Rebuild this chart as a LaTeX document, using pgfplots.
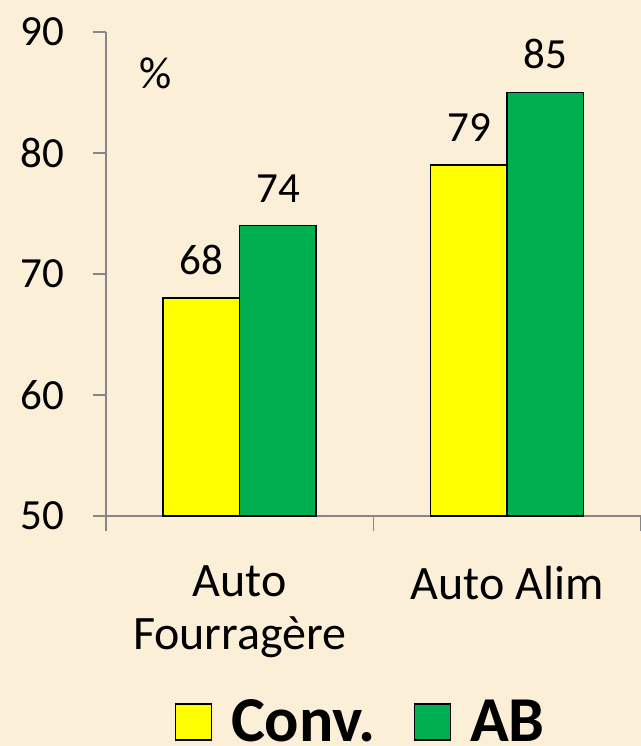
\documentclass[border=0pt]{standalone}
\usepackage{pgfplots}
\pgfplotsset{compat=1.18}
\usepackage{fontspec}
\setmainfont{Carlito}
\definecolor{bg}{RGB}{251,239,215}
\definecolor{axgray}{RGB}{134,134,134}
\definecolor{convy}{RGB}{255,255,0}
\definecolor{abg}{RGB}{0,176,80}
\begin{document}
\begin{tikzpicture}
\path[use as bounding box, fill=bg] (0,0) rectangle (320.5pt,373pt);
\begin{axis}[
  at={(53pt,115pt)}, anchor=south west,
  width=267.5pt, height=242pt, scale only axis,
  xmin=-0.5, xmax=1.5, ymin=50, ymax=90,
  axis x line*=bottom, axis y line*=left,
  axis line style={axgray, line width=0.8pt},
  every tick/.style={axgray, line width=0.8pt},
  tick align=outside,
  ytick={50,60,70,80,90},
  major tick length=6.5pt,
  xtick={0,1}, xticklabels={{Auto\\Fourragère},{Auto Alim}},
  major x tick style={draw=none},
  minor xtick={-0.5,0.5,1.5}, minor tick length=7.5pt,
  /pgf/number format/assume math mode=true,
  tick label style={font=\fontsize{21.5}{26}\selectfont},
  xticklabel style={align=center, yshift=-15pt, font=\fontsize{24}{26.5}\selectfont},
  yticklabel style={xshift=-11pt},
  ybar=0pt, bar width=38.25pt,
  nodes near coords,
  every node near coord/.append style={font=\fontsize{21.5}{26}\selectfont, black, yshift=8pt},
  legend style={at={(0.478,-0.426)}, anchor=center, draw=none, fill=none,
    font=\fontsize{32}{34}\selectfont\bfseries, legend columns=2,
    /tikz/every odd column/.append style={column sep=7.5pt},
    /tikz/every even column/.append style={column sep=17pt}},
  legend image code/.code={\draw[#1, draw=black, line width=0.75pt] (0pt,-9pt) rectangle (18pt,9pt);},
]
\addplot[fill=convy, draw=black, line width=0.75pt] coordinates {(0,68) (1,79)};
\addplot[fill=abg, draw=black, line width=0.75pt] coordinates {(0,74) (1,85)};
\legend{Conv., AB}
\node[font=\fontsize{22.5}{26}\selectfont] at (rel axis cs:0.092,0.915) {\%};
\end{axis}
\end{tikzpicture}
\end{document}
